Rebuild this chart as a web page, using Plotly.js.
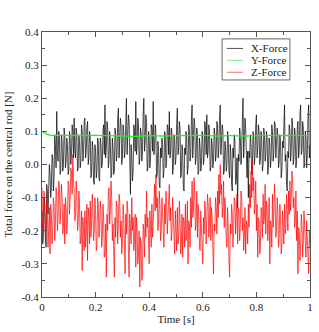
<!DOCTYPE html>
<html>
<head>
<meta charset="utf-8">
<script src="https://cdn.plot.ly/plotly-3.0.1.min.js"></script>
<style>
html,body{margin:0;padding:0;background:#fff;}
#chart{width:319px;height:332px;}
#chart svg text{font-family:"Liberation Serif","Times New Roman",serif !important;}
</style>
</head>
<body>
<div id="chart"></div>
<script>
// sampling step of the force signals [s]
const dt = 0.0025;

const xForce = [
-0.14,-0.24,-0.22,-0.10,-0.12,-0.23,-0.25,-0.06,-0.08,-0.15,-0.10,0.00,-0.03,-0.10,-0.07,0.03,0.02,-0.08,-0.04,0.09,
0.06,-0.01,0.16,0.03,0.01,0.10,0.08,-0.03,-0.02,0.09,0.07,-0.02,0.00,0.11,0.09,-0.01,0.01,0.08,0.06,-0.03,
-0.02,0.10,0.08,0.00,0.03,0.12,0.10,0.02,0.14,0.04,0.02,0.11,0.09,-0.02,-0.01,0.09,0.07,-0.01,0.01,0.12,
0.10,0.01,0.03,0.13,0.14,0.02,0.04,0.11,0.13,0.00,0.02,0.10,0.08,-0.04,-0.03,0.07,0.05,-0.05,-0.06,0.06,
0.04,-0.04,-0.02,0.08,0.07,-0.04,-0.05,0.08,0.06,-0.01,0.00,0.10,0.12,0.03,0.18,0.02,0.05,0.13,0.11,-0.01,
0.01,0.10,0.07,-0.04,-0.03,0.08,0.05,-0.03,-0.02,0.11,0.09,0.01,0.03,0.14,0.17,0.02,0.06,0.14,0.12,0.00,
0.02,0.12,0.10,0.02,0.04,0.15,0.20,0.03,0.08,0.15,0.13,-0.04,-0.09,0.06,0.03,-0.05,-0.02,0.12,0.10,0.04,
0.19,0.03,0.06,0.14,0.12,0.00,0.02,0.11,0.09,0.01,0.04,0.15,0.20,0.04,0.07,0.15,0.13,-0.02,-0.01,0.10,
0.08,-0.01,0.02,0.12,0.11,0.04,0.19,0.03,0.05,0.12,0.10,-0.04,-0.03,0.07,0.04,-0.06,-0.07,0.05,0.02,0.08,
0.06,-0.04,-0.02,0.10,0.09,-0.01,0.01,0.12,0.11,0.03,0.16,0.02,0.04,0.11,0.09,-0.03,-0.01,0.09,0.07,0.00,
0.02,0.12,0.17,0.03,0.05,0.13,0.11,-0.04,-0.03,0.06,0.04,-0.07,-0.08,0.05,0.03,0.10,0.08,-0.03,-0.01,0.12,
0.10,0.01,0.03,0.14,0.18,0.02,0.07,0.14,0.12,0.00,0.02,0.11,0.09,-0.03,-0.02,0.08,0.05,-0.02,0.00,0.10,
0.08,0.00,0.02,0.13,0.11,0.03,0.15,0.02,0.04,0.12,0.10,-0.02,-0.01,0.08,0.06,-0.01,0.01,0.11,0.09,0.01,
0.03,0.13,0.12,0.02,0.05,0.14,0.18,0.03,0.06,0.12,0.10,-0.03,-0.02,0.07,0.05,-0.02,0.00,0.10,0.08,-0.02,
-0.04,0.06,0.03,-0.06,-0.08,0.05,0.02,0.09,0.07,-0.06,-0.05,0.02,-0.13,0.03,0.01,0.11,0.09,0.00,0.04,0.13,
0.20,0.02,0.07,0.14,0.11,-0.02,-0.04,0.04,-0.10,0.04,0.02,0.09,0.06,-0.03,-0.01,0.10,0.08,0.00,0.03,0.12,
0.15,0.02,0.05,0.12,0.10,0.00,0.02,0.10,0.07,-0.02,0.00,0.11,0.09,0.01,0.03,0.10,0.08,-0.03,-0.01,0.08,
0.06,-0.01,0.02,0.12,0.10,0.01,0.04,0.13,0.12,0.02,0.05,0.11,0.09,-0.01,0.01,0.09,0.07,-0.04,-0.02,0.07,
0.05,0.12,0.18,0.01,0.03,-0.06,-0.08,0.04,0.02,0.12,0.10,0.01,0.04,0.14,0.12,0.00,0.02,0.11,0.09,-0.01,
0.01,0.11,0.13,0.02,0.05,0.15,0.18,0.03,0.04,0.13,0.11,-0.01,0.00,0.10,0.08,-0.01,0.03,0.14,0.18,0.02,
0.06
];

const zForce = [
-0.07,-0.20,-0.18,-0.08,-0.12,-0.24,-0.21,-0.11,-0.14,-0.25,-0.19,-0.13,-0.27,-0.12,-0.15,-0.24,-0.20,-0.10,-0.12,-0.23,
-0.18,-0.07,-0.09,-0.20,-0.16,-0.05,-0.07,-0.18,-0.14,-0.06,-0.10,-0.21,-0.19,-0.12,-0.24,-0.10,-0.13,-0.21,-0.17,-0.05,
-0.06,-0.15,-0.11,-0.01,-0.02,-0.09,0.03,-0.05,-0.08,-0.17,-0.15,-0.05,-0.09,-0.20,-0.18,-0.08,-0.12,-0.24,-0.22,-0.14,
-0.32,-0.16,-0.19,-0.26,-0.14,-0.25,-0.21,-0.12,-0.29,-0.13,-0.16,-0.24,-0.11,-0.22,-0.18,-0.09,-0.13,-0.23,-0.20,-0.10,
-0.15,-0.26,-0.24,-0.10,-0.12,-0.22,-0.19,-0.11,-0.14,-0.25,-0.22,-0.12,-0.16,-0.28,-0.27,-0.18,-0.34,-0.15,-0.20,-0.09,
-0.07,-0.18,-0.14,-0.05,-0.10,-0.23,-0.18,-0.26,-0.34,-0.16,-0.22,-0.11,-0.13,-0.24,-0.19,-0.09,-0.11,-0.22,-0.17,-0.27,
-0.24,-0.12,-0.15,-0.26,-0.33,-0.15,-0.21,-0.11,-0.14,-0.27,-0.34,-0.15,-0.18,-0.24,-0.10,-0.20,-0.16,-0.26,-0.23,-0.15,
-0.31,-0.16,-0.19,-0.30,-0.27,-0.20,-0.37,-0.22,-0.24,-0.35,-0.33,-0.18,-0.20,-0.28,-0.15,-0.22,-0.08,-0.19,-0.16,-0.25,
-0.30,-0.14,-0.19,-0.25,-0.12,-0.22,-0.18,-0.08,-0.06,-0.14,-0.03,-0.13,-0.10,-0.20,-0.17,-0.08,-0.12,-0.23,-0.20,-0.10,
-0.14,-0.22,-0.25,-0.12,-0.18,-0.08,-0.11,-0.21,-0.16,-0.07,-0.06,-0.17,-0.13,-0.23,-0.20,-0.10,-0.15,-0.24,-0.27,-0.14,
-0.19,-0.26,-0.13,-0.24,-0.22,-0.11,-0.16,-0.27,-0.24,-0.15,-0.28,-0.16,-0.17,-0.25,-0.12,-0.23,-0.20,-0.11,-0.30,-0.17,
-0.18,-0.25,-0.10,-0.19,-0.05,-0.16,-0.14,-0.04,-0.09,-0.20,-0.17,-0.08,-0.22,-0.12,-0.15,-0.25,-0.26,-0.14,-0.19,-0.27,
-0.30,-0.16,-0.21,-0.11,-0.14,-0.24,-0.19,-0.09,-0.12,-0.22,-0.17,-0.10,-0.23,-0.13,-0.16,-0.26,-0.33,-0.18,-0.20,-0.10,
-0.13,-0.21,-0.08,-0.16,-0.03,-0.12,0.00,-0.09,-0.06,-0.16,-0.13,-0.05,-0.19,-0.10,-0.14,-0.23,-0.25,-0.13,-0.18,-0.28,
-0.34,-0.18,-0.21,-0.12,-0.15,-0.25,-0.20,-0.10,-0.11,-0.21,-0.17,-0.09,-0.24,-0.13,-0.14,-0.23,-0.19,-0.08,-0.10,-0.20,
-0.16,-0.26,-0.22,-0.13,-0.27,-0.17,-0.18,-0.24,-0.12,-0.19,-0.06,-0.13,-0.02,-0.10,0.01,-0.08,-0.04,-0.15,-0.12,-0.05,
-0.20,-0.12,-0.28,-0.16,-0.17,-0.27,-0.25,-0.13,-0.14,-0.22,-0.09,-0.18,-0.16,-0.06,-0.21,-0.11,-0.13,-0.23,-0.19,-0.10,
-0.30,-0.17,-0.18,-0.25,-0.09,-0.19,-0.15,-0.06,-0.11,-0.22,-0.20,-0.10,-0.14,-0.25,-0.22,-0.12,-0.16,-0.27,-0.25,-0.14,
-0.18,-0.24,-0.12,-0.21,-0.19,-0.09,-0.14,-0.20,-0.08,-0.15,-0.05,-0.14,-0.11,-0.02,-0.04,-0.13,-0.10,-0.19,-0.17,-0.08,
-0.23,-0.14,-0.33,-0.19,-0.20,-0.29,-0.26,-0.15,-0.18,-0.28,-0.24,-0.14,-0.19,-0.27,-0.28,-0.17,-0.22,-0.31,-0.33,-0.20,
-0.25
];

const yTime = [0,0.01,0.02,0.03,0.05,0.1,0.15,0.2,0.25,0.3,0.35,0.4,0.45,0.5,0.55,0.6,0.65,0.7,0.75,0.8,0.85,0.9,0.95,1.0];
const yForce = [0.100,0.095,0.091,0.089,0.088,0.088,0.087,0.088,0.087,0.086,0.085,0.087,0.086,0.087,0.087,0.088,0.086,0.087,0.086,0.087,0.087,0.087,0.088,0.087];

const seriesNames = ['X-Force','Y-Force','Z-Force'];
const seriesColors = ['#000000','#22ee22','#ff0000'];
const legendLineColors = ['#555555','#88ee88','#ee7777'];
const xTickVals = [0,0.2,0.4,0.6,0.8,1];
const xTickText = ['0','0.2','0.4','0.6','0.8','1'];
const yTickVals = [-0.4,-0.3,-0.2,-0.1,0,0.1,0.2,0.3,0.4];
const yTickText = ['-0.4','-0.3','-0.2','-0.1','0.0','0.1','0.2','0.3','0.4'];

const time = xForce.map((_, i) => +(i * dt).toFixed(5));

const font = {family: 'Liberation Serif', size: 11, color: '#222'};
const legFont = {family: 'Liberation Serif', size: 11, color: '#222'};

const traces = [
  {x: time, y: xForce, name: seriesNames[0], type: 'scatter', mode: 'lines', line: {color: seriesColors[0], width: 0.7}},
  {x: yTime, y: yForce, name: seriesNames[1], type: 'scatter', mode: 'lines', line: {color: seriesColors[1], width: 1.3, shape: 'spline'}},
  {x: time, y: zForce, name: seriesNames[2], type: 'scatter', mode: 'lines', line: {color: seriesColors[2], width: 0.7}}
];

// legend drawn as a compact box (paper coordinates)
const legBox = {x0: 0.672, x1: 0.925, y0: 0.819, y1: 0.974};
const legRows = [0.938, 0.893, 0.848];
const shapes = [{type: 'rect', xref: 'paper', yref: 'paper', x0: legBox.x0, x1: legBox.x1, y0: legBox.y0, y1: legBox.y1,
  line: {color: '#666', width: 1}, fillcolor: '#fff', layer: 'above'}];
const annotations = [];
seriesNames.forEach((n, k) => {
  shapes.push({type: 'line', xref: 'paper', yref: 'paper', x0: 0.690, x1: 0.750, y0: legRows[k], y1: legRows[k],
    line: {color: legendLineColors[k], width: 1}, layer: 'above'});
  annotations.push({xref: 'paper', yref: 'paper', x: 0.776, y: legRows[k], xanchor: 'left', yanchor: 'middle',
    text: n, showarrow: false, font: legFont, borderpad: 0});
});

const axisCommon = {
  showgrid: false, zeroline: false, showline: true, linecolor: '#555', linewidth: 1,
  mirror: 'allticks', ticks: 'inside', ticklen: 5, tickcolor: '#555', tickwidth: 1,
  tickfont: font
};

const layout = {
  width: 319, height: 332,
  margin: {l: 42, r: 9, t: 32, b: 35},
  paper_bgcolor: '#fff', plot_bgcolor: '#fff',
  font: font,
  showlegend: false,
  shapes: shapes,
  annotations: annotations,
  xaxis: Object.assign({}, axisCommon, {
    range: [0, 1], tickvals: xTickVals, ticktext: xTickText,
    minor: {dtick: 0.1, ticks: 'inside', ticklen: 3, tickcolor: '#555'},
    title: {text: 'Time [s]', font: font, standoff: 3}
  }),
  yaxis: Object.assign({}, axisCommon, {
    range: [-0.4, 0.4], tickvals: yTickVals, ticktext: yTickText,
    minor: {dtick: 0.05, ticks: 'inside', ticklen: 3, tickcolor: '#555'},
    title: {text: 'Total force on the central rod [N]', font: font, standoff: 6}
  })
};

Plotly.newPlot('chart', traces, layout, {staticPlot: true, displayModeBar: false});
</script>
</body>
</html>
